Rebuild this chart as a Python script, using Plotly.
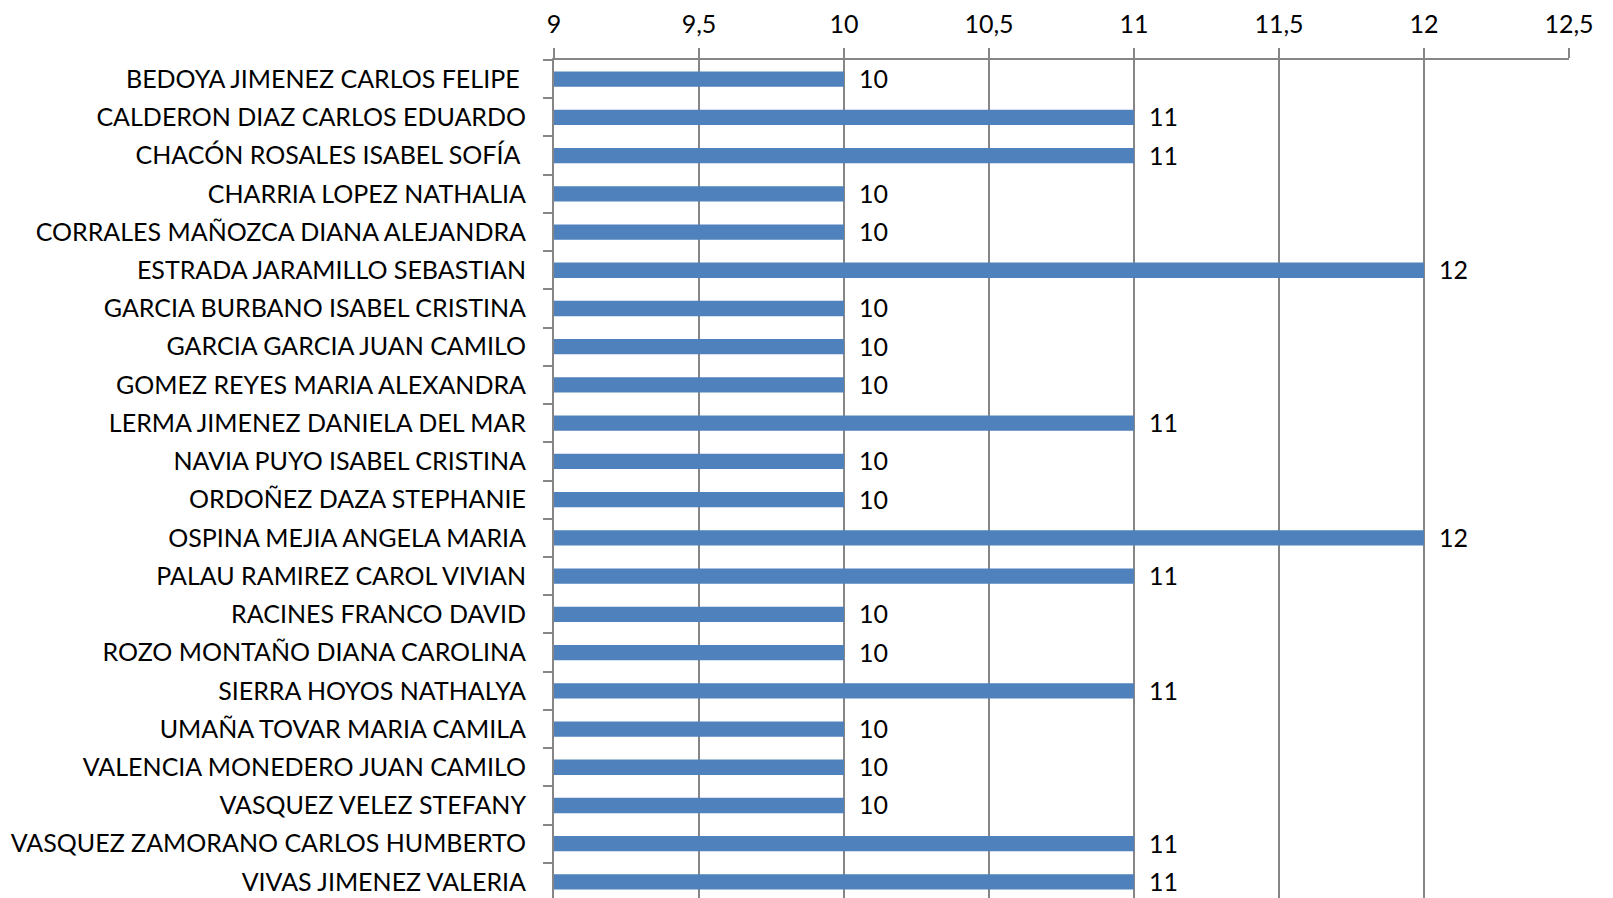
import plotly.graph_objects as go

names = [
    "BEDOYA JIMENEZ CARLOS FELIPE\u00a0",
    "CALDERON DIAZ CARLOS EDUARDO",
    "CHACÓN ROSALES ISABEL SOFÍA\u00a0",
    "CHARRIA LOPEZ NATHALIA",
    "CORRALES MAÑOZCA DIANA ALEJANDRA",
    "ESTRADA JARAMILLO SEBASTIAN",
    "GARCIA BURBANO ISABEL CRISTINA",
    "GARCIA GARCIA JUAN CAMILO",
    "GOMEZ REYES MARIA ALEXANDRA",
    "LERMA JIMENEZ DANIELA DEL MAR",
    "NAVIA PUYO ISABEL CRISTINA",
    "ORDOÑEZ DAZA STEPHANIE",
    "OSPINA MEJIA ANGELA MARIA",
    "PALAU RAMIREZ CAROL VIVIAN",
    "RACINES FRANCO DAVID",
    "ROZO MONTAÑO DIANA CAROLINA",
    "SIERRA HOYOS NATHALYA",
    "UMAÑA TOVAR MARIA CAMILA",
    "VALENCIA MONEDERO JUAN CAMILO",
    "VASQUEZ VELEZ STEFANY",
    "VASQUEZ ZAMORANO CARLOS HUMBERTO",
    "VIVAS JIMENEZ VALERIA",
]
values = [10, 11, 11, 10, 10, 12, 10, 10, 10, 11, 10, 10, 12, 11, 10, 10, 11, 10, 10, 10, 11, 11]
tick_vals = [9, 9.5, 10, 10.5, 11, 11.5, 12, 12.5]

FONT = "Lato"
BLUE = "#4F81BD"
GRID = "#868686"

fig = go.Figure()
fig.add_trace(go.Bar(
    x=[v - 9 for v in values], base=9, y=names, orientation="h",
    marker=dict(color=BLUE, line=dict(width=0)),
    width=0.4, hoverinfo="skip",
))
for n, v in zip(names, values):
    fig.add_annotation(x=v, y=n, text=str(v), showarrow=False,
                       xanchor="left", xshift=13, yshift=1,
                       font=dict(family=FONT, size=25, color="#000000"))

fig.update_layout(
    width=1605, height=890,
    margin=dict(l=546, r=44, t=52, b=0, autoexpand=False),
    paper_bgcolor="white", plot_bgcolor="white",
    separators=",.",
    showlegend=False,
    font=dict(family=FONT, size=25, color="#000000"),
    xaxis=dict(
        side="top", range=[9, 12.5], tickvals=tick_vals,
        ticks="outside", ticklen=10, tickcolor=GRID, tickwidth=2,
        showgrid=True, gridcolor=GRID, gridwidth=2,
        showline=True, linecolor=GRID, linewidth=2,
        zeroline=False, tickfont=dict(family=FONT, size=25),
        ticklabelstandoff=5, automargin=False,
    ),
    yaxis=dict(
        type="category", categoryorder="array", categoryarray=names,
        range=[21.42, -0.5], tickson="boundaries",
        ticks="outside", ticklen=9, tickcolor=GRID, tickwidth=2,
        showline=True, linecolor=GRID, linewidth=2,
        showgrid=False, tickfont=dict(family=FONT, size=25),
        ticklabelstandoff=21, automargin=False,
    ),
)
fig.write_html("out.html")
